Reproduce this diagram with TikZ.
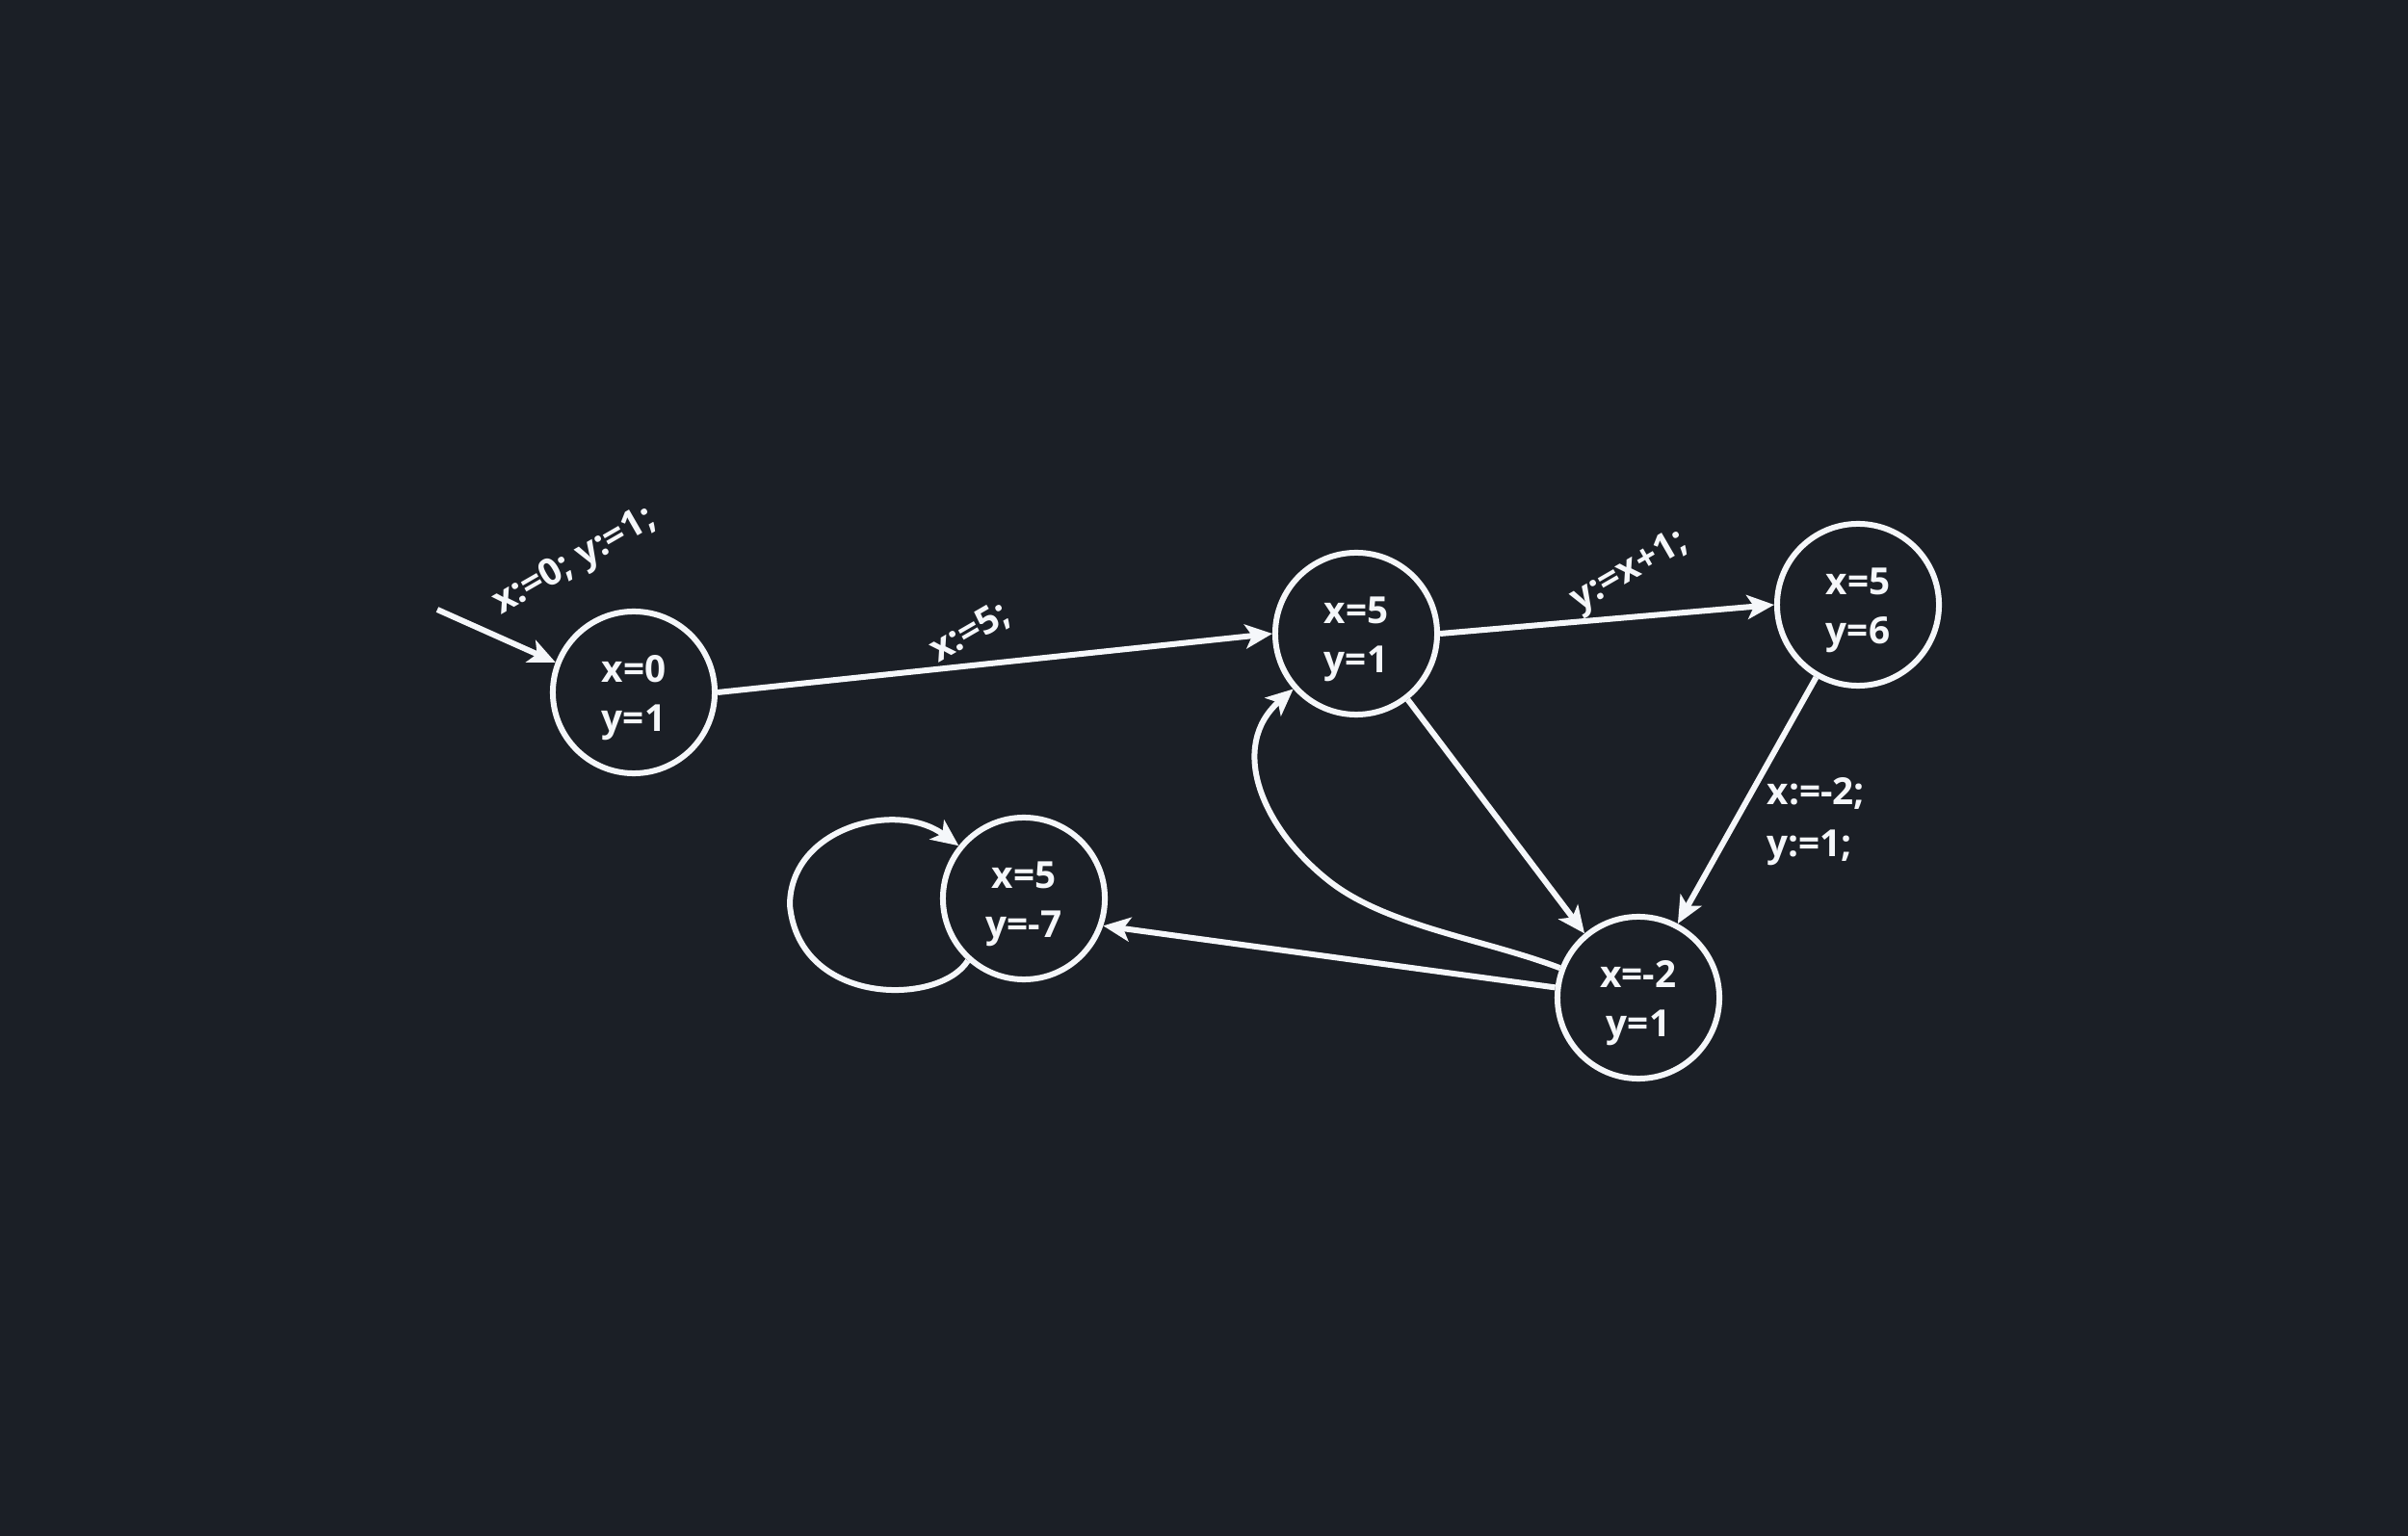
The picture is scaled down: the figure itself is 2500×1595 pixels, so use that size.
\documentclass[tikz,border=0pt]{standalone}
\usepackage{fontspec}
\setmainfont{Open Sans}
\usetikzlibrary{arrows.meta}
\definecolor{bg}{RGB}{27,31,38}
\definecolor{fg}{RGB}{245,247,250}
\begin{document}
\begin{tikzpicture}[x=0.01cm,y=-0.01cm,
  txt/.style={text=fg, font=\bfseries\fontsize{11}{14.5}\selectfont},
  stnode/.style={circle, draw=fg, line width=0.06cm, minimum size=1.68cm, inner sep=0pt},
  stlab/.style={txt, align=center, inner sep=0pt, yshift=-0.06cm},
  conn/.style={draw=fg, line width=0.06cm, -{Stealth[length=0.28cm,width=0.25cm,inset=0.07cm]}},
  lab/.style={txt, inner sep=0pt, font=\bfseries\fontsize{11}{15.5}\selectfont},
  rlab/.style={lab, rotate=30}]
\fill[bg] (0,0) rectangle (2500,1595);
\useasboundingbox (0,0) rectangle (2500,1595);
\node[stnode, label={[stlab]center:x=0\\y=1}] (A) at (658,719) {};
\node[stnode, label={[stlab]center:x=5\\y=1}] (B) at (1408,658) {};
\node[stnode, label={[stlab]center:x=5\\y=6}] (C) at (1929,628) {};
\node[stnode, label={[stlab]center:x=-2\\y=1}] (D) at (1701,1036) {};
\node[stnode, label={[stlab]center:x=5\\y=-7}] (E) at (1063,933) {};
\coordinate (S) at (454,633);
\draw[conn] (S) -- (A.159);
\draw[conn] (A.east) -- (B.west);
\draw[conn] (B.east) -- (C.west);
\draw[conn] (C.240) -- (D.62);
\draw[conn] (B.308) -- (D.130);
\draw[conn] (D.173) -- (E.-19);
\draw[conn] (D) .. controls (1540,975) and (1440,962) .. (1380,915)
  .. controls (1310,860) and (1275,775) .. (B);
\draw[conn] (E.228) .. controls (975,1045) and (830,1045) .. (820,940)
  .. controls (820,860) and (930,830) .. (E.141);
\node[rlab] (l1) at (597,584) {x:=0; y:=1;};
\node[rlab] (l2) at (1007,657) {x:=5;};
\node[rlab] (l3) at (1692,594) {y:=x+1;};
\node[lab, anchor=west, align=left] (l4) at (1834,853) {x:=-2;\\y:=1;};
\end{tikzpicture}
\end{document}
